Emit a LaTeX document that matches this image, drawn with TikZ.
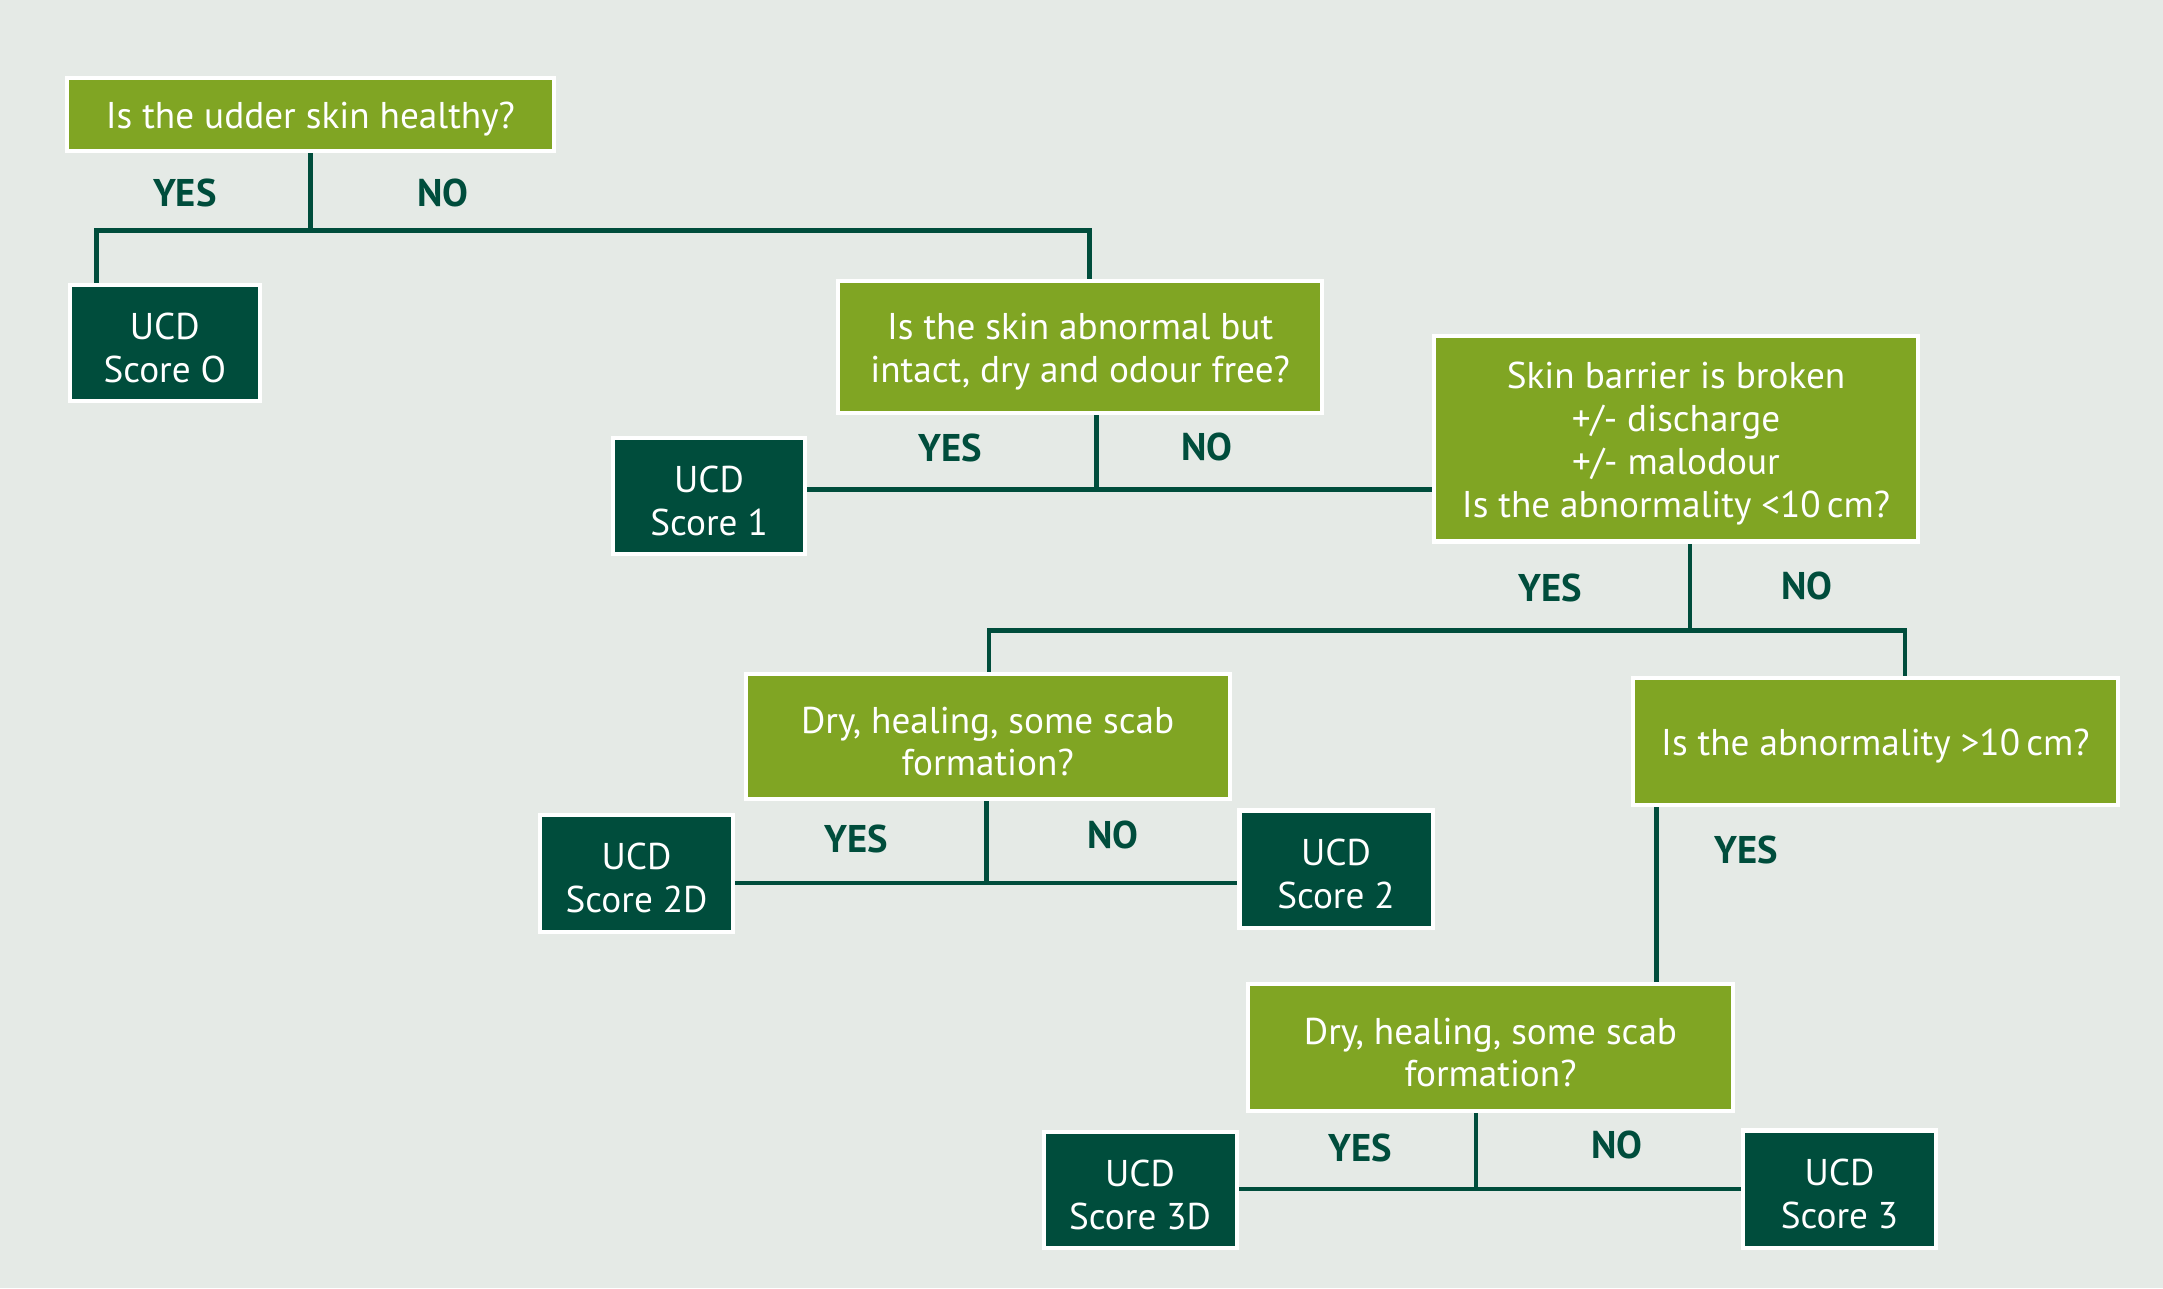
\documentclass[tikz,border=0pt]{standalone}
\usepackage{fontspec}
\setmainfont{PT Sans}
\definecolor{bgcol}{HTML}{E5EAE6}
\definecolor{lgreen}{HTML}{80A523}
\definecolor{dgreen}{HTML}{004D3C}
\pgfdeclarelayer{back}
\pgfdeclarelayer{lines}
\pgfsetlayers{back,lines,main}
\tikzset{
  box/.style={draw=white, line width=3pt, inner sep=0pt},
  qbox/.style={box, fill=lgreen},
  sbox/.style={box, fill=dgreen},
  txt/.style={text=white, align=center, inner sep=0pt, yshift=-3.5pt,
    font=\fontsize{27}{31}\selectfont},
  lbl/.style={text=dgreen, font=\fontsize{28}{30}\selectfont\bfseries, inner sep=0pt},
  conn/.style={draw=dgreen, line width=3.4pt}
}
\begin{document}
\begin{tikzpicture}[x=1pt,y=-1pt]
\begin{pgfonlayer}{back}
\fill[bgcol] (0,0) rectangle (1568,934);
\end{pgfonlayer}
\useasboundingbox (0,0) rectangle (1568,934);

% question boxes
\node[qbox, minimum width=353pt, minimum height=53pt] (A) at (225,83) {};
\node[txt] (At) at (A.center) {Is the udder skin healthy?};
\node[qbox, minimum width=351pt, minimum height=96pt] (B) at (783,251.5) {};
\node[txt] (Bt) at (B.center) {Is the skin abnormal but\\intact, dry and odour free?};
\node[qbox, minimum width=351pt, minimum height=149pt] (C) at (1215,318) {};
\node[txt] (Ct) at (C.center) {Skin barrier is broken\\+/- discharge\\+/- malodour\\Is the abnormality <10\,cm?};
\node[qbox, minimum width=351pt, minimum height=91pt] (D) at (716,534) {};
\node[txt] (Dt) at (D.center) {Dry, healing, some scab\\formation?};
\node[qbox, minimum width=352pt, minimum height=92pt] (E) at (1359.5,537.5) {};
\node[txt] (Et) at (E.center) {Is the abnormality >10\,cm?};
\node[qbox, minimum width=352pt, minimum height=92pt] (F) at (1080.5,759.5) {};
\node[txt] (Ft) at (F.center) {Dry, healing, some scab\\formation?};

% score boxes
\node[sbox, minimum width=138pt, minimum height=84pt] (s0) at (119.5,248.5) {};
\node[txt] (s0t) at (s0.center) {UCD\\Score O};
\node[sbox, minimum width=139pt, minimum height=84pt] (s1) at (514,359.5) {};
\node[txt] (s1t) at (s1.center) {UCD\\Score 1};
\node[sbox, minimum width=140pt, minimum height=85pt] (s2d) at (461.5,633) {};
\node[txt] (s2dt) at (s2d.center) {UCD\\Score 2D};
\node[sbox, minimum width=140pt, minimum height=85pt] (s2) at (968.5,630) {};
\node[txt] (s2t) at (s2.center) {UCD\\Score 2};
\node[sbox, minimum width=140pt, minimum height=84pt] (s3d) at (826.5,862.5) {};
\node[txt] (s3dt) at (s3d.center) {UCD\\Score 3D};
\node[sbox, minimum width=140pt, minimum height=85pt] (s3) at (1333.5,862) {};
\node[txt] (s3t) at (s3.center) {UCD\\Score 3};

% labels
\node[lbl] (y1) at (134,140) {YES};
\node[lbl] (n1) at (321,140) {NO};
\node[lbl] (y2) at (689,325) {YES};
\node[lbl] (n2) at (875,324) {NO};
\node[lbl] (y3) at (1124,426) {YES};
\node[lbl] (n3) at (1310,425) {NO};
\node[lbl] (y4) at (621,608) {YES};
\node[lbl] (n4) at (807,605) {NO};
\node[lbl] (y5) at (1266,616) {YES};
\node[lbl] (y6) at (986,832) {YES};
\node[lbl] (n6) at (1172,830) {NO};

% connectors
\coordinate (j0) at (225,167);
\coordinate (j1) at (795,355);
\coordinate (j2) at (1225,457);
\coordinate (j3) at (715,640);
\coordinate (v5) at (1201,0);
\coordinate (j5) at (1070,862);
\begin{pgfonlayer}{lines}
\draw[conn] (A.south) -- (j0);
\draw[conn] ([xshift=-49.5pt]s0.north) |- (j0) -| ([xshift=7pt]B.north);
\draw[conn] (B.south -| j1) -- (j1);
\draw[conn] (s1.east |- j1) -- (C.west |- j1);
\draw[conn] (C.south -| j2) -- (j2);
\draw[conn] ([xshift=1pt]D.north) |- (j2) -| ([xshift=21.5pt]E.north);
\draw[conn] (D.south -| j3) -- (j3);
\draw[conn] (s2d.east |- j3) -- (s2.west |- j3);
\draw[conn] (E.south -| v5) -- (F.north -| v5);
\draw[conn] (F.south -| j5) -- (j5);
\draw[conn] (s3d.east |- j5) -- (s3.west |- j5);
\end{pgfonlayer}
\end{tikzpicture}
\end{document}
